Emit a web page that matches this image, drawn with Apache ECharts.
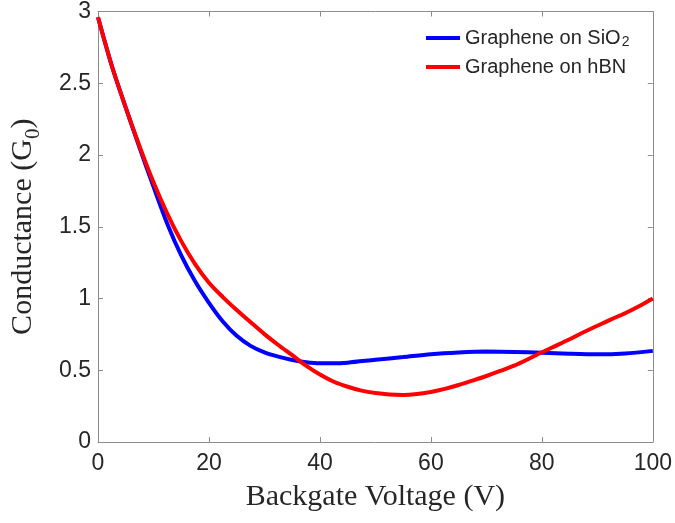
<!DOCTYPE html>
<html>
<head>
<meta charset="utf-8">
<script src="https://cdn.jsdelivr.net/npm/echarts@6/dist/echarts.min.js"></script>
<style>
  html, body { margin: 0; padding: 0; background: #fff; }
  #main { width: 675px; height: 523px; }
</style>
</head>
<body>
<div id="main"></div>
<script>
// backgate voltage (V) and conductance (G0)
const sio2V = [0, 2.5, 5, 7.5, 10, 12.5, 15, 17.5, 20, 22.5, 25, 27.5, 30, 32.5, 35, 37.5, 40, 42.5, 45, 50, 55, 60, 65, 70, 75, 80, 85, 90, 95, 100];
const sio2G = [2.96, 2.62, 2.33, 2.05, 1.78, 1.52, 1.30, 1.12, 0.97, 0.84, 0.74, 0.67, 0.625, 0.595, 0.572, 0.556, 0.548, 0.548, 0.553, 0.573, 0.592, 0.612, 0.624, 0.63, 0.628, 0.622, 0.615, 0.611, 0.617, 0.635];

const hbnV = [0, 2.5, 5, 7.5, 10, 12.5, 15, 17.5, 20, 22.5, 25, 27.5, 30, 32.5, 35, 37.5, 40, 42.5, 45, 47.5, 50, 52.5, 55, 57.5, 60, 62.5, 65, 67.5, 70, 72.5, 75, 77.5, 80, 82.5, 85, 87.5, 90, 92.5, 95, 97.5, 100];
const hbnG = [2.96, 2.62, 2.33, 2.06, 1.81, 1.59, 1.40, 1.24, 1.11, 1.01, 0.92, 0.835, 0.752, 0.676, 0.605, 0.532, 0.47, 0.42, 0.385, 0.358, 0.341, 0.331, 0.328, 0.334, 0.349, 0.37, 0.397, 0.428, 0.46, 0.495, 0.532, 0.577, 0.625, 0.67, 0.716, 0.765, 0.81, 0.855, 0.897, 0.946, 1.0];

const xTicks = [0, 20, 40, 60, 80, 100];
const yTicks = [0, 0.5, 1, 1.5, 2, 2.5, 3];

const pairs = (xs, ys) => xs.map((x, i) => [x, ys[i]]);

const frame = '#8c8c8c';
const txt = '#262626';
const sans = 'Liberation Sans, Arial, sans-serif';
const serif = 'Liberation Serif, Times New Roman, serif';

let myChart = echarts.init(document.getElementById('main'));
myChart.setOption({
  animation: false,
  backgroundColor: '#fff',
  grid: { left: 98, right: 22, top: 10, bottom: 81, containLabel: false },
  legend: {
    left: 421,
    top: 18,
    orient: 'vertical',
    icon: 'rect',
    itemWidth: 34,
    itemHeight: 4,
    itemGap: 7,
    textStyle: {
      fontFamily: sans,
      fontSize: 20,
      color: txt,
      lineHeight: 22,
      rich: {
        sub: { fontSize: 14, verticalAlign: 'bottom', lineHeight: 22, padding: [12, 0, 0, 1], fontFamily: sans, color: txt }
      }
    },
    formatter: function (name) {
      return name.replace('SiO2', 'SiO{sub|2}');
    },
    data: ['Graphene on SiO2', 'Graphene on hBN']
  },
  xAxis: [{
    type: 'value',
    min: 0, max: 100, interval: 20,
    name: 'Backgate Voltage (V)',
    nameLocation: 'middle',
    nameGap: 40,
    nameTextStyle: { fontFamily: serif, fontSize: 30, color: txt },
    axisLine: { show: true, onZero: false, lineStyle: { color: frame, width: 1 } },
    axisTick: { show: true, inside: true, length: 5, lineStyle: { color: frame } },
    axisLabel: {
      fontFamily: sans, fontSize: 23, color: txt, margin: 10,
      formatter: v => xTicks.includes(v) ? String(v) : ''
    },
    splitLine: { show: false }
  }, {
    type: 'value', position: 'top',
    min: 0, max: 100, interval: 20,
    axisLine: { show: true, onZero: false, lineStyle: { color: frame, width: 1 } },
    axisTick: { show: true, inside: true, length: 5, lineStyle: { color: frame } },
    axisLabel: { show: false },
    splitLine: { show: false }
  }],
  yAxis: [{
    type: 'value',
    min: 0, max: 3, interval: 0.5,
    name: 'Conductance (G{sub|0})',
    nameLocation: 'middle',
    nameGap: 54,
    nameTextStyle: {
      fontFamily: serif, fontSize: 30, color: txt,
      rich: {
        sub: { fontFamily: serif, fontSize: 21, color: txt, verticalAlign: 'bottom', padding: [20, 0, 0, 0] }
      }
    },
    axisLine: { show: true, onZero: false, lineStyle: { color: frame, width: 1 } },
    axisTick: { show: true, inside: true, length: 5, lineStyle: { color: frame } },
    axisLabel: {
      fontFamily: sans, fontSize: 23, color: txt, margin: 7,
      formatter: v => yTicks.includes(v) ? String(v) : ''
    },
    splitLine: { show: false }
  }, {
    type: 'value', position: 'right',
    min: 0, max: 3, interval: 0.5,
    axisLine: { show: true, onZero: false, lineStyle: { color: frame, width: 1 } },
    axisTick: { show: true, inside: true, length: 5, lineStyle: { color: frame } },
    axisLabel: { show: false },
    splitLine: { show: false }
  }],
  series: [
    {
      name: 'Graphene on SiO2',
      type: 'line',
      smooth: 0.3,
      symbol: 'none',
      color: '#0000ff',
      lineStyle: { color: '#0000ff', width: 4 },
      data: pairs(sio2V, sio2G)
    },
    {
      name: 'Graphene on hBN',
      type: 'line',
      smooth: 0.3,
      symbol: 'none',
      color: '#ff0000',
      lineStyle: { color: '#ff0000', width: 4 },
      data: pairs(hbnV, hbnG)
    }
  ]
});
</script>
</body>
</html>
